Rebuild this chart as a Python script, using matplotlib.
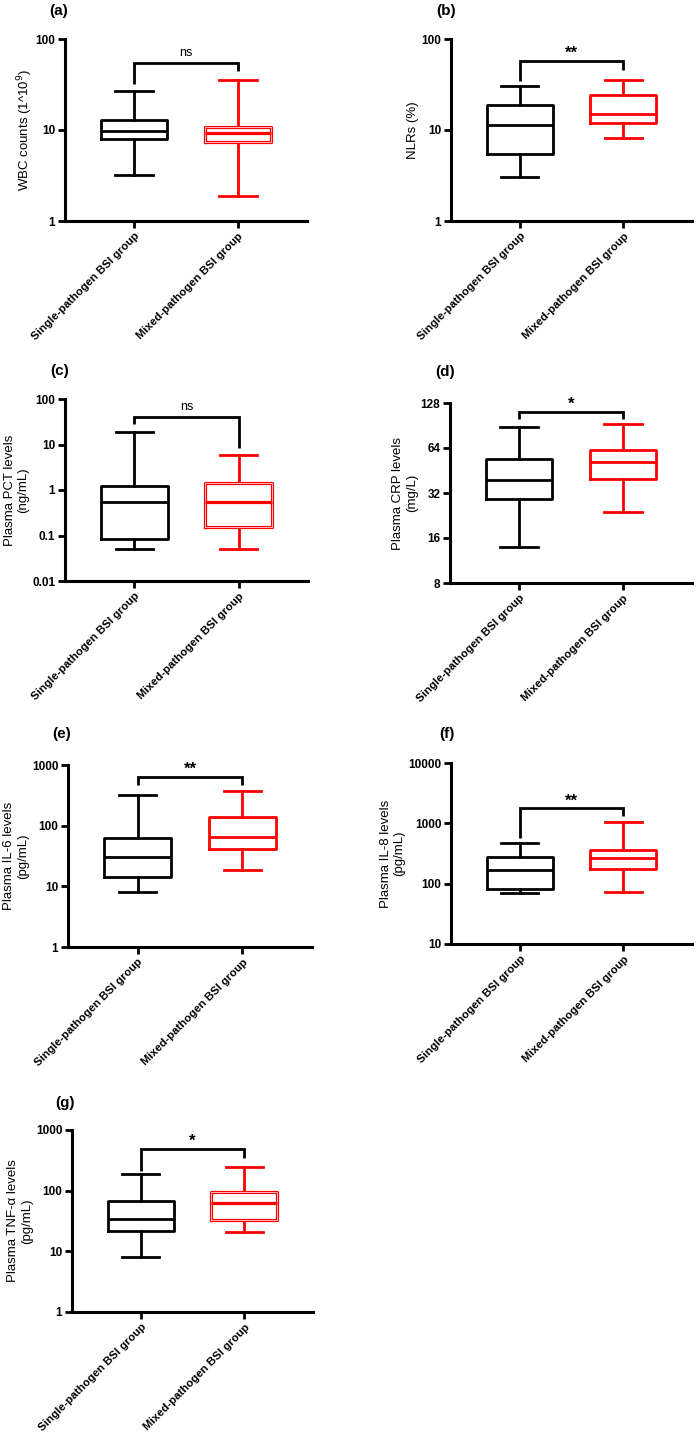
import matplotlib.pyplot as plt

plt.rcParams['font.family'] = ['Liberation Sans', 'DejaVu Sans']

groups = ['Single-pathogen BSI group', 'Mixed-pathogen BSI group']
panels = ['(a)', '(b)', '(c)', '(d)', '(e)', '(f)', '(g)']
ylabels = ['WBC counts (1^10$^9$)', 'NLRs (%)',
           'Plasma PCT levels\n(ng/mL)', 'Plasma CRP levels\n(mg/L)',
           'Plasma IL-6 levels\n(pg/mL)', 'Plasma IL-8 levels\n(pg/mL)',
           'Plasma TNF-α levels\n(pg/mL)']

# whisker low, Q1, median, Q3, whisker high
single_stats = [
    [3.22, 7.89, 9.75, 12.8, 26.9],
    [3.03, 5.47, 11.4, 18.8, 30.1],
    [0.050, 0.084, 0.54, 1.21, 18.8],
    [13.9, 29.3, 38.9, 53.9, 88.8],
    [8.0, 14.0, 30.3, 62.3, 324],
    [69.5, 81, 169, 273, 465],
    [8.2, 21.5, 33.5, 66.4, 185],
]
mixed_stats = [
    [1.90, 7.44, 9.19, 10.8, 35.6],
    [8.26, 11.9, 14.9, 24.4, 35.7],
    [0.050, 0.157, 0.54, 1.39, 5.75],
    [24.0, 39.5, 51.7, 61.9, 93.0],
    [18.9, 40.5, 64.7, 140, 372],
    [74, 173, 263, 361, 1035],
    [20.7, 32.6, 61.5, 94.6, 248],
]

yticks = [[1, 10, 100], [1, 10, 100], [0.01, 0.1, 1, 10, 100],
          [8, 16, 32, 64, 128], [1, 10, 100, 1000],
          [10, 100, 1000, 10000], [1, 10, 100, 1000]]
ytick_labels = [['1', '10', '100'], ['1', '10', '100'],
                ['0.01', '0.1', '1', '10', '100'],
                ['8', '16', '32', '64', '128'],
                ['1', '10', '100', '1000'],
                ['10', '100', '1000', '10000'],
                ['1', '10', '100', '1000']]
log_base = [10, 10, 10, 2, 10, 10, 10]

signif = ['ns', '**', 'ns', '*', '**', '**', '*']
bracket_top = [54.4, 57.3, 40.8, 112, 641, 1762, 486]
bracket_left = [31.9, 34.2, 28.6, 100.5, 467, 562, 213]
bracket_right = [44.7, 45.6, 8.34, 100.5, 467, 1333, 341]

# red box drawn as hollow outline in these panels
hollow = [True, False, True, False, False, False, True]

W, H = 698, 1440
# axes in pixels: left, right, top, bottom
rects = [(65, 307, 39, 221), (451, 692, 39, 221),
         (65, 308, 399, 581), (450, 692, 403, 583),
         (68, 312, 765, 947), (451, 692, 763, 944),
         (72, 313, 1130, 1312)]
label_pos = [(49, 11), (436, 11), (50, 371), (435, 372),
             (52, 734), (439, 734), (55, 1103)]
ylabel_pad = [0, 2, 2, 2, 2, 2, 2]

fig = plt.figure(figsize=(W / 100, H / 100), dpi=100)

for i in range(7):
    l, r, t, b = rects[i]
    ax = fig.add_axes([l / W, 1 - b / H, (r - l) / W, (b - t) / H])
    ax.set_yscale('log', base=log_base[i])

    stats = []
    for s, name in zip([single_stats[i], mixed_stats[i]], groups):
        stats.append(dict(whislo=s[0], q1=s[1], med=s[2], q3=s[3],
                          whishi=s[4], fliers=[], label=name))
    art = ax.bxp(stats, positions=[1, 2], widths=0.64, capwidths=0.36,
                 showfliers=False, patch_artist=False)
    colors = ['black', '#ff0000']
    for k, c in enumerate(colors):
        art['boxes'][k].set(color=c, linewidth=2)
        art['medians'][k].set(color=c, linewidth=2)
        for w in art['whiskers'][2 * k:2 * k + 2]:
            w.set(color=c, linewidth=2)
        for cp in art['caps'][2 * k:2 * k + 2]:
            cp.set(color=c, linewidth=2)
    if hollow[i]:
        art['boxes'][1].set_linewidth(2.3)
        art['medians'][1].set_linewidth(2.3)
        for a in [art['boxes'][1], art['medians'][1]]:
            ax.plot(a.get_xdata(), a.get_ydata(), color='white', lw=0.5)

    # significance bracket
    ax.plot([1, 1, 2, 2], [bracket_left[i], bracket_top[i], bracket_top[i],
                           bracket_right[i]], color='black', lw=2,
            solid_capstyle='butt', solid_joinstyle='miter')
    ns = signif[i] == 'ns'
    ax.annotate(signif[i], (1.5, bracket_top[i]),
                xytext=(0, 3 if ns else 0),
                textcoords='offset points', ha='center', va='bottom',
                fontsize=9 if ns else 12,
                fontweight='normal' if ns else 'bold')

    ax.set_xlim(0.335, 2.665)
    ax.set_ylim(yticks[i][0], yticks[i][-1])
    ax.set_yticks(yticks[i])
    ax.set_yticklabels(ytick_labels[i], fontweight='bold', fontsize=8.5)
    ax.minorticks_off()
    ax.set_xticks([1, 2])
    ax.set_xticklabels(groups, rotation=45, ha='right',
                       rotation_mode='anchor', fontweight='bold', fontsize=8.2)
    ax.set_ylabel(ylabels[i], fontsize=9.5, labelpad=ylabel_pad[i])

    for sp in ['top', 'right']:
        ax.spines[sp].set_visible(False)
    for sp in ['left', 'bottom']:
        ax.spines[sp].set_linewidth(2.2)
    ax.tick_params(direction='out', length=5, width=2, pad=2)

    lx, ly = label_pos[i]
    fig.text(lx / W, 1 - ly / H, panels[i], fontsize=11, fontweight='bold',
             va='center', ha='left')

fig.savefig('out.png', dpi=100, facecolor='white')
